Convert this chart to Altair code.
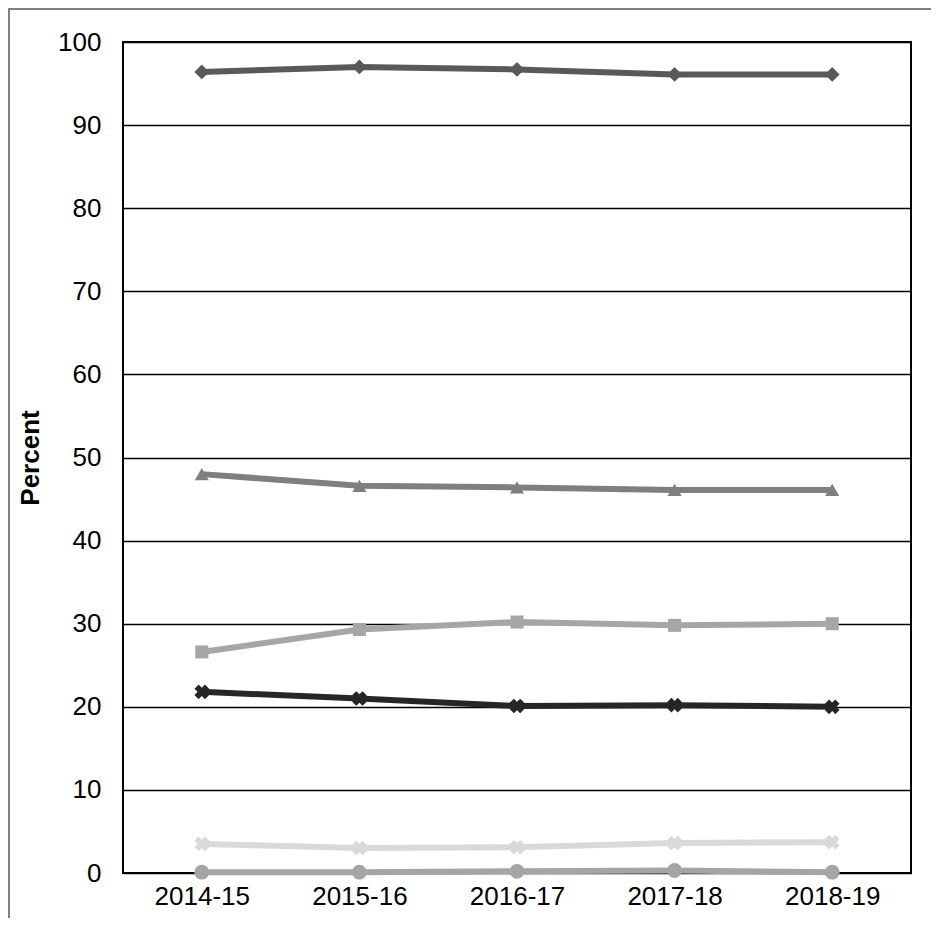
import altair as alt
import pandas as pd

years = ["2014-15", "2015-16", "2016-17", "2017-18", "2018-19"]
s_diamond = [96.4, 97.0, 96.7, 96.1, 96.1]
s_triangle = [48.0, 46.6, 46.4, 46.1, 46.1]
s_square = [26.6, 29.3, 30.2, 29.8, 30.0]
s_xdark = [21.8, 21.0, 20.1, 20.2, 20.0]
s_xlight = [3.5, 3.0, 3.1, 3.6, 3.7]
s_circle = [0.1, 0.1, 0.2, 0.3, 0.1]

series = [
    ("A", s_diamond, "#595959", "diamond", 0, 220),
    ("B", s_triangle, "#7f7f7f", "triangle-up", 0, 200),
    ("C", s_square, "#a6a6a6", "square", 0, 170),
    ("D", s_xdark, "#262626", "cross", 45, 220),
    ("E", s_xlight, "#d9d9d9", "cross", 45, 220),
    ("F", s_circle, "#a5a5a5", "circle", 0, 220),
]

xenc = alt.X("year:N", sort=years, title=None,
             scale=alt.Scale(type="point", padding=0.5),
             axis=alt.Axis(labelAngle=0, labelFontSize=26, labelColor="black",
                           domain=False, ticks=False, grid=False, labelPadding=10))
yenc = alt.Y("v:Q", title="Percent", scale=alt.Scale(domain=[0, 100], nice=False),
             axis=alt.Axis(values=list(range(0, 101, 10)), labelFontSize=26,
                           labelColor="black", grid=True, gridColor="black",
                           gridWidth=1.5, gridOpacity=1, domain=False, ticks=False,
                           titleFontSize=26, titleFontWeight="bold",
                           titleColor="black", labelPadding=22, titlePadding=14))

layers = []
for name, vals, col, shp, ang, sz in series:
    df = pd.DataFrame({"year": years, "v": vals})
    base = alt.Chart(df).encode(x=xenc, y=yenc)
    layers.append(base.mark_line(color=col, strokeWidth=6))
    layers.append(base.mark_point(color=col, filled=True, shape=shp, angle=ang,
                                  size=sz, opacity=1, strokeWidth=0))

frame = alt.Chart(pd.DataFrame({"a": [0]})).mark_rect(
    fill=None, stroke="#808080", strokeWidth=2).encode(
    x=alt.value(-114), x2=alt.value(813), y=alt.value(-33), y2=alt.value(900))

chart = alt.layer(frame, *layers).properties(
    width=788, height=831,
    autosize=alt.AutoSizeParams(type="none"),
    padding={"left": 115, "top": 34, "right": 20, "bottom": 45},
).configure_view(stroke="black", strokeWidth=2).configure_axis(
    labelFont="Liberation Sans", titleFont="Liberation Sans")

chart.save("out.html", embed_options={"renderer": "svg", "actions": False})
